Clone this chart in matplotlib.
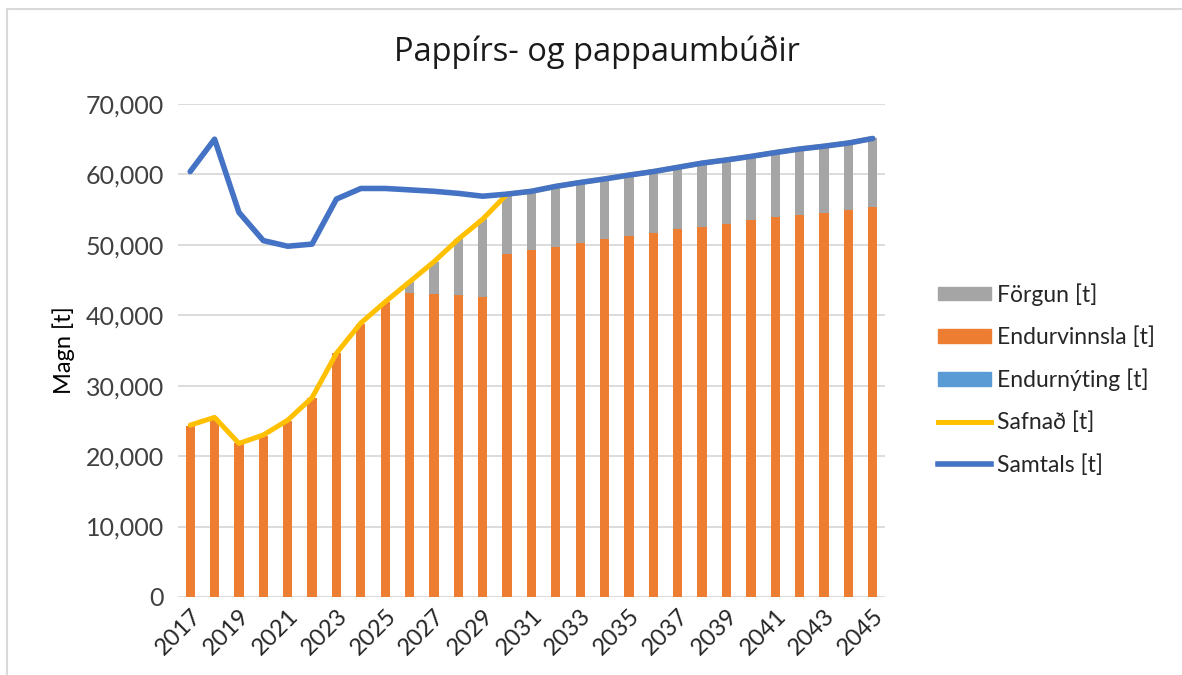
import matplotlib
matplotlib.use("Agg")
import matplotlib.pyplot as plt
import numpy as np
from matplotlib.patches import Rectangle
from matplotlib.lines import Line2D

plt.rcParams['font.family'] = ['Lato', 'DejaVu Sans']

# Ár og magn [t]
years = list(range(2017, 2046))

endurvinnsla = [24300, 25300, 21800, 22900, 25000, 28200, 34600, 38800, 41900, 43200,
                43050, 42850, 42650, 48700, 49200, 49750, 50300, 50850, 51200, 51700,
                52250, 52600, 53000, 53500, 53900, 54200, 54550, 54950, 55300]
forgun = [0, 0, 0, 0, 0, 0, 0, 0, 0, 1550,
          4550, 7950, 11000, 8500, 8400, 8550, 8550, 8500, 8700, 8700,
          8750, 9000, 9050, 9050, 9200, 9400, 9450, 9500, 9800]
endurnyting = [0] * 29
safnad = [24400, 25500, 21800, 23000, 25100, 28300, 34600, 38900, 41900, 44750,
          47600, 50800, 53650, 57200, 57600, 58300, 58850, 59350, 59900, 60400,
          61000, 61600, 62050, 62550, 63100, 63600, 64000, 64450, 65100]
samtals = [60400, 65000, 54600, 50600, 49800, 50100, 56500, 58000, 58000, 57800,
           57600, 57300, 56900, 57200, 57600, 58300, 58850, 59350, 59900, 60400,
           61000, 61600, 62050, 62550, 63100, 63600, 64000, 64450, 65100]

c_orange = '#ED7D31'
c_gray = '#A5A5A5'
c_lblue = '#5B9BD5'
c_yellow = '#FFC000'
c_blue = '#4472C4'

fig = plt.figure(figsize=(11.82, 6.75), dpi=100)
ax = fig.add_axes([0.1506, 0.1156, 0.5981, 0.7304])

x = np.arange(len(years))
w = 0.38
ax.bar(x, endurnyting, w, color=c_lblue, zorder=2)
ax.bar(x, endurvinnsla, w, bottom=endurnyting, color=c_orange, zorder=2)
ax.bar(x, forgun, w, bottom=np.array(endurvinnsla) + np.array(endurnyting), color=c_gray, zorder=2)
ax.plot(x, safnad, color=c_yellow, lw=3.6, zorder=3, solid_capstyle='round')
ax.plot(x, samtals, color=c_blue, lw=4, zorder=4, solid_capstyle='round')

ax.set_xlim(-0.5, len(years) - 0.5)
ax.set_ylim(0, 70000)
ax.set_yticks(range(0, 70001, 10000))
ax.set_yticklabels([f'{v:,}' for v in range(0, 70001, 10000)])
ax.set_xticks(x[::2])
ax.set_xticklabels([str(y) for y in years[::2]], rotation=45, ha='right',
                   rotation_mode='anchor')
ax.grid(axis='y', color='#D9D9D9', lw=1.3, zorder=0)
ax.set_axisbelow(True)
for s in ax.spines.values():
    s.set_visible(False)
ax.tick_params(length=0, labelsize=18, labelcolor='#404040')
ax.tick_params(axis='y', pad=10)
ax.tick_params(axis='x', pad=6, labelsize=17, labelcolor='#262626')
ax.set_ylabel('Magn [t]', fontsize=17, color='#000000', labelpad=8)

fig.text(0.505, 0.922, 'Pappírs- og pappaumbúðir', ha='center', va='center',
         fontsize=23.5, color='#1a1a1a', family=['Open Sans', 'DejaVu Sans'])

handles = [
    Rectangle((0, 0), 1, 1, color=c_gray),
    Rectangle((0, 0), 1, 1, color=c_orange),
    Rectangle((0, 0), 1, 1, color=c_lblue),
    Line2D([], [], color=c_yellow, lw=3.6),
    Line2D([], [], color=c_blue, lw=4),
]
labels = ['Förgun [t]', 'Endurvinnsla [t]', 'Endurnýting [t]', 'Safnað [t]', 'Samtals [t]']
fig.legend(handles, labels, loc='center left', bbox_to_anchor=(0.776, 0.438),
           frameon=False, fontsize=16.5, labelcolor='#262626',
           handlelength=2.3, handleheight=0.55, handletextpad=0.3, labelspacing=0.9)

# ramminn utan um myndina
fig.patches.append(Rectangle((7 / 1182, -0.05), 1.2, 1 - 9 / 675 + 0.05,
                             transform=fig.transFigure, fill=False,
                             edgecolor='#D9D9D9', lw=1.5))

fig.savefig('out.png', dpi=100)
